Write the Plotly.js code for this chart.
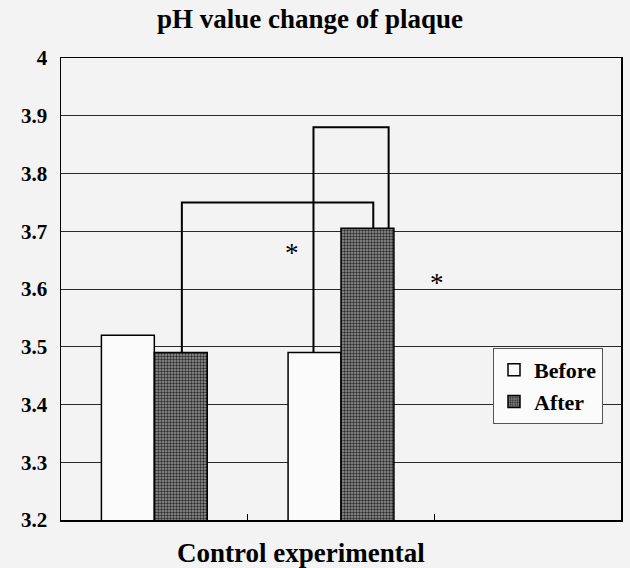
<!DOCTYPE html>
<html>
<head>
<meta charset="utf-8">
<script src="https://cdn.plot.ly/plotly-3.0.1.min.js"></script>
<style>html,body{margin:0;padding:0;background:#f2f3f2;}#chart{width:630px;height:568px;}</style>
</head>
<body>
<div id="chart"></div>
<script>
// ---- data ----
const categories = ['Control', 'experimental'];
const seriesNames = ['Before', 'After'];
const beforeValues = [3.52, 3.49];
const afterValues = [3.49, 3.705];
const yTickValues = [3.2, 3.3, 3.4, 3.5, 3.6, 3.7, 3.8, 3.9, 4];
const yTickLabels = ['3.2', '3.3', '3.4', '3.5', '3.6', '3.7', '3.8', '3.9', '4'];
// significance brackets: [series index, category index] for each end, and bracket height
const bracketStarts = [[1, 0], [0, 1]];
const bracketEnds = [[1, 1], [1, 1]];
const bracketHeights = [3.75, 3.88];
const starLabels = ['*', '*'];
const titleText = 'pH value change of plaque';
const xTitleText = 'Control experimental';

// ---- layout helpers ----
const FONT = 'Liberation Serif, Times New Roman, serif';
const bargap = 0.433;
const barW = (1 - bargap) / 2;
const seriesValues = [beforeValues, afterValues];
// fraction across the bar where each bracket leg sits
const startFrac = [0.52, 0.48];
const endFrac = [0.61, 0.90];
function barX(s, c, frac) { return c - barW + s * barW + frac * barW; }

const traces = [
  {
    type: 'bar', name: seriesNames[0], x: categories, y: beforeValues,
    marker: { color: '#fbfbfb', line: { color: '#000', width: 1.5 } }
  },
  {
    type: 'bar', name: seriesNames[1], x: categories, y: afterValues,
    marker: {
      color: '#808080', line: { color: '#000', width: 1.5 },
      pattern: { shape: '.', bgcolor: '#969696', fgcolor: '#2e2e2e', size: 3, solidity: 0.5 }
    }
  }
];

const shapes = [];
for (let i = 0; i < bracketHeights.length; i++) {
  const [s0, c0] = bracketStarts[i];
  const [s1, c1] = bracketEnds[i];
  const x0 = barX(s0, c0, startFrac[i]);
  const x1 = barX(s1, c1, endFrac[i]);
  const y0 = seriesValues[s0][c0];
  const y1 = seriesValues[s1][c1];
  const h = bracketHeights[i];
  shapes.push({
    type: 'path', xref: 'x', yref: 'y',
    path: `M ${x0} ${y0} L ${x0} ${h} L ${x1} ${h} L ${x1} ${y1}`,
    line: { color: '#000', width: 2 }
  });
}

const annotations = [
  { text: starLabels[0], x: 0.735, y: 3.662, xref: 'x', yref: 'y', showarrow: false,
    font: { family: FONT, size: 27, color: '#000' } },
  { text: starLabels[1], x: 1.516, y: 3.610, xref: 'x', yref: 'y', showarrow: false,
    font: { family: FONT, size: 27, color: '#000' } },
  { text: '<b>' + xTitleText + '</b>', x: (301 - 61) / 560, xref: 'paper', y: -0.072, yref: 'paper',
    showarrow: false, xanchor: 'center', yanchor: 'middle',
    font: { family: FONT, size: 27, color: '#000' } }
];

const layout = {
  width: 630, height: 568,
  margin: { l: 61, r: 9, t: 58, b: 48 },
  paper_bgcolor: '#f2f3f2', plot_bgcolor: '#f2f3f2',
  title: { text: '<b>' + titleText + '</b>', x: 310 / 630, xanchor: 'center', y: 1 - 19 / 568, yanchor: 'middle',
    font: { family: FONT, size: 27, color: '#000' } },
  barmode: 'group', bargap: bargap, bargroupgap: 0,
  xaxis: {
    type: 'category', categoryarray: categories, categoryorder: 'array',
    range: [-0.5, 2.5], showticklabels: false, showgrid: false,
    ticks: 'inside', tickson: 'boundaries', ticklen: 6, tickcolor: '#000', tickwidth: 1,
    showline: true, linecolor: '#000', linewidth: 1.5, mirror: true, zeroline: false
  },
  yaxis: {
    range: [3.2, 4], tickvals: yTickValues, ticktext: yTickLabels,
    showgrid: true, gridcolor: '#2a2a2a', gridwidth: 1,
    showline: true, linecolor: '#000', linewidth: 1.5, mirror: true, zeroline: false,
    ticks: '', ticklabelstandoff: 8,
    tickfont: { family: FONT, size: 21, color: '#000', weight: 'bold' }
  },
  legend: {
    x: (493 - 61) / 560, xanchor: 'left', y: (520 - 348) / 462, yanchor: 'top',
    bgcolor: '#fbfbfb', bordercolor: '#555', borderwidth: 1,
    font: { family: FONT, size: 22, color: '#000', weight: 'bold' },
    tracegroupgap: 0, itemwidth: 30
  },
  shapes: shapes,
  annotations: annotations
};

Plotly.newPlot('chart', traces, layout, { displayModeBar: false, staticPlot: true });
</script>
</body>
</html>
